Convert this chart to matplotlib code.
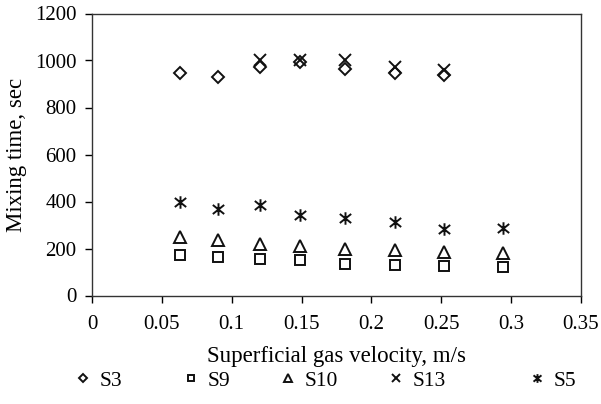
import matplotlib
matplotlib.use("Agg")
import matplotlib.pyplot as plt
from matplotlib.path import Path

plt.rcParams['font.family'] = ['Liberation Serif', 'DejaVu Serif']

velocity = [0.063, 0.090, 0.120, 0.149, 0.181, 0.217, 0.252, 0.294]
s3_x = [0.063, 0.090, 0.120, 0.149, 0.181, 0.217, 0.252]
s3 = [945, 928, 971, 995, 964, 945, 938]
s9 = [172, 164, 157, 150, 136, 129, 125, 122]
s10 = [248, 235, 221, 210, 200, 193, 184, 180]
s13_x = [0.120, 0.149, 0.181, 0.217, 0.252]
s13 = [1000, 1000, 1000, 972, 960]
s5 = [398, 370, 387, 342, 328, 313, 281, 287]

x_ticks = [0, 0.05, 0.1, 0.15, 0.2, 0.25, 0.3, 0.35]
x_labels = ['0', '0.05', '0.1', '0.15', '0.2', '0.25', '0.3', '0.35']
y_ticks = [0, 200, 400, 600, 800, 1000, 1200]

ast = Path([(-1, -0.8), (1, 0.8), (-1, 0.8), (1, -0.8), (0, -1.1), (0, 1.1)],
           [Path.MOVETO, Path.LINETO, Path.MOVETO, Path.LINETO, Path.MOVETO, Path.LINETO])

fig = plt.figure(figsize=(6.01, 4.04), dpi=100)
ax = fig.add_axes([92/601, 1-295.5/404, (581-92)/601, (295.5-13.5)/404])

kw = dict(linestyle='none', color='black', mfc='none', mec='#111111', mew=1.4)
h1, = ax.plot(s3_x, s3, marker='D', ms=6.5, **kw)
h2, = ax.plot(velocity, s9, marker='s', ms=7, **kw)
h3, = ax.plot(velocity, s10, marker='^', ms=8.5, **kw)
h4, = ax.plot(s13_x, s13, marker='x', ms=8.5, **kw)
h5, = ax.plot(velocity, s5, marker=ast, ms=9, **kw)

ax.set_xlim(0, 0.35)
ax.set_ylim(0, 1200)
ax.set_xticks(x_ticks)
ax.set_xticklabels(x_labels)
ax.set_yticks(y_ticks)
ax.tick_params(direction='out', length=5, width=1, labelsize=15, colors='black')
ax.tick_params(axis='x', pad=9)
ax.tick_params(axis='y', pad=6)
for s in ax.spines.values():
    s.set_linewidth(1.0)
    s.set_color('#333333')
ax.set_xlabel('Superficial gas velocity, m/s', fontsize=16.5, labelpad=9)
ax.set_ylabel('Mixing time, sec', fontsize=16.5, labelpad=6)

names = ['S3', 'S9', 'S10', 'S13', 'S5']
handles = [h1, h2, h3, h4, h5]
xpos = [72, 180, 277, 385, 526]
for h, n, xp in zip(handles, names, xpos):
    fig.legend(handles=[h], labels=[n], loc='center left',
               bbox_to_anchor=(xp/601, 1-381/404), frameon=False,
               handletextpad=0.3, handlelength=1.0, markerscale=0.7,
               fontsize=15.5, borderpad=0, borderaxespad=0)

fig.savefig('out.png', dpi=100)
